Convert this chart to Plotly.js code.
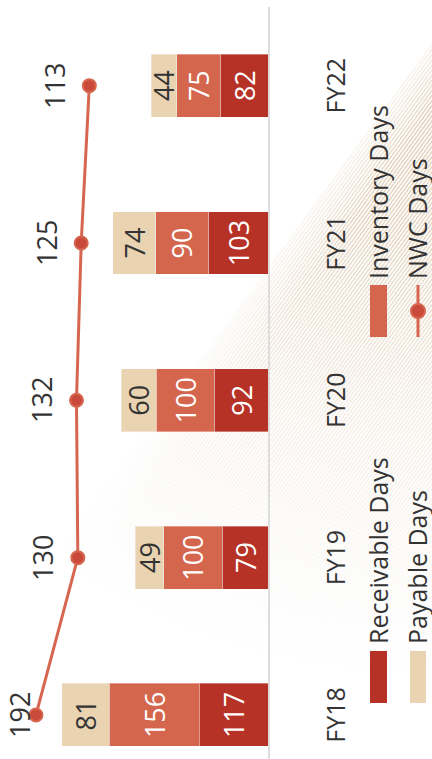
<!DOCTYPE html>
<html><head><meta charset="utf-8">
<script src="https://cdn.plot.ly/plotly-3.0.1.min.js"></script>
<style>
html,body{margin:0;padding:0;width:432px;height:759px;overflow:hidden;background:#fff;}
#bg{position:absolute;left:0;top:0;width:432px;height:759px;}
#chart{position:absolute;left:0;top:0;width:759px;height:432px;transform-origin:0 0;transform:translate(0px,759px) rotate(-90deg);}
</style></head><body>
<div id="bg">
<svg width="432" height="759" xmlns="http://www.w3.org/2000/svg">
<defs>
 <pattern id="hatch" patternUnits="userSpaceOnUse" width="3" height="3" patternTransform="rotate(36)">
   <rect x="0" y="0" width="1.2" height="3" fill="#cbae86"/>
 </pattern>
 <radialGradient id="fade" cx="432" cy="0" r="800" gradientUnits="userSpaceOnUse">
   <stop offset="0" stop-color="#fff" stop-opacity="1"/>
   <stop offset="0.3" stop-color="#fff" stop-opacity="0.75"/>
   <stop offset="0.55" stop-color="#fff" stop-opacity="0.3"/>
   <stop offset="0.85" stop-color="#fff" stop-opacity="0"/>
 </radialGradient>
 <linearGradient id="edge" gradientUnits="userSpaceOnUse" x1="346" y1="140" x2="388" y2="171">
   <stop offset="0" stop-color="#fff" stop-opacity="0"/>
   <stop offset="1" stop-color="#fff" stop-opacity="1"/>
 </linearGradient>
 <mask id="m"><rect width="432" height="759" fill="url(#fade)"/></mask>
 <mask id="m2"><rect width="432" height="759" fill="url(#edge)"/></mask>
</defs>
<g mask="url(#m2)">
<polygon points="464,0 -94,759 500,759 500,0" fill="url(#hatch)" mask="url(#m)" opacity="0.8"/>
</g>
</svg>
</div>
<div id="chart"></div>
<script>
// ---- data ----
const categories = ['FY18', 'FY19', 'FY20', 'FY21', 'FY22'];
const receivableDays = [117, 79, 92, 103, 82];
const inventoryDays = [156, 100, 100, 90, 75];
const payableDays = [81, 49, 60, 74, 44];
const nwcDays = [192, 130, 132, 125, 113];
const seriesNames = ['Receivable Days', 'Inventory Days', 'Payable Days', 'NWC Days'];

// ---- styling ----
const FONT = '"Open Sans", "Noto Sans", sans-serif';
const C_REC = '#b73226', C_INV = '#d4664d', C_PAY = '#e9d3b1', C_LINE = '#d6664f', C_MARK = '#c9493a';
const W = 759, H = 432, ML = 0, MR = 7, MT = 0, MB = 164;
const PW = W - ML - MR, PH = H - MT - MB;
const Y2RANGE = [-151.7, 245.3];

function barTrace(name, vals, color, txtColor) {
  return {
    type: 'bar', name: name, x: categories, y: vals, width: 0.4,
    marker: {color: color, line: {color: 'rgba(255,255,255,0.35)', width: 1}},
    text: vals.map(String), textposition: 'inside', insidetextanchor: 'middle',
    textangle: 0, constraintext: 'none',
    textfont: {family: FONT, size: 27, color: txtColor},
    hoverinfo: 'skip', showlegend: false
  };
}

const traces = [
  barTrace(seriesNames[0], receivableDays, C_REC, '#ffffff'),
  barTrace(seriesNames[1], inventoryDays, C_INV, '#ffffff'),
  barTrace(seriesNames[2], payableDays, C_PAY, '#333333'),
  {
    type: 'scatter', mode: 'lines+markers', name: seriesNames[3],
    x: categories, y: nwcDays, yaxis: 'y2', cliponaxis: false,
    line: {color: C_LINE, width: 3},
    marker: {size: 13, color: C_MARK, line: {color: C_LINE, width: 2}},
    hoverinfo: 'skip', showlegend: false
  }
];

// NWC value labels placed above markers (kept inside the page)
const annotations = nwcDays.map((v, i) => {
  const p = (v - Y2RANGE[0]) / (Y2RANGE[1] - Y2RANGE[0]) * PH; // px above baseline
  const fromTop = PH - p;
  const labelFromTop = Math.max(fromTop - 35, 20);
  return {
    x: categories[i], y: v, xref: 'x', yref: 'y2', yshift: fromTop - labelFromTop,
    text: String(v), showarrow: false, xanchor: 'center', yanchor: 'middle',
    font: {family: FONT, size: 27, color: '#333333'}
  };
});

// custom legend (px in plot frame -> paper)
const px = x => x / PW, py = y => 1 - y / PH;
const shapes = [];
function swatch(x0, y0, x1, y1, color) {
  shapes.push({type: 'rect', xref: 'paper', yref: 'paper', x0: px(x0), x1: px(x1), y0: py(y1), y1: py(y0),
    fillcolor: color, line: {width: 0}});
}
swatch(56, 370, 108, 387, C_REC);
swatch(422, 370, 474, 387, C_INV);
swatch(56, 410, 108, 426, C_PAY);
shapes.push({type: 'line', xref: 'paper', yref: 'paper', x0: px(422), x1: px(474), y0: py(418), y1: py(418),
  line: {color: C_LINE, width: 3}});
shapes.push({type: 'circle', xref: 'paper', yref: 'paper', xsizemode: 'pixel', ysizemode: 'pixel',
  xanchor: px(448), yanchor: py(418), x0: -7, x1: 7, y0: -7, y1: 7,
  fillcolor: C_MARK, line: {color: C_LINE, width: 2}});
const legendText = [[seriesNames[0], 113, 378], [seriesNames[1], 478, 378], [seriesNames[2], 113, 417], [seriesNames[3], 478, 417]];
legendText.forEach(([t, x, y]) => annotations.push({
  xref: 'paper', yref: 'paper', x: px(x), y: py(y), text: t, showarrow: false,
  xanchor: 'left', yanchor: 'middle', font: {family: FONT, size: 25, color: '#333333'}
}));

const layout = {
  width: W, height: H, margin: {l: ML, r: MR, t: MT, b: MB, pad: 0},
  paper_bgcolor: 'rgba(0,0,0,0)', plot_bgcolor: 'rgba(0,0,0,0)',
  barmode: 'stack', showlegend: false,
  font: {family: FONT, color: '#333333'},
  xaxis: {type: 'category', range: [-0.28, 4.5], showline: true, linecolor: '#dddddd', linewidth: 1.5,
    ticks: '', showgrid: false, zeroline: false, tickfont: {family: FONT, size: 25, color: '#333333'},
    ticklabelstandoff: 45, fixedrange: true},
  yaxis: {range: [0, 460.5], visible: false, fixedrange: true},
  yaxis2: {range: Y2RANGE, overlaying: 'y', visible: false, fixedrange: true},
  annotations: annotations, shapes: shapes
};

Plotly.newPlot('chart', traces, layout, {displayModeBar: false, staticPlot: true});
</script>
</body></html>
